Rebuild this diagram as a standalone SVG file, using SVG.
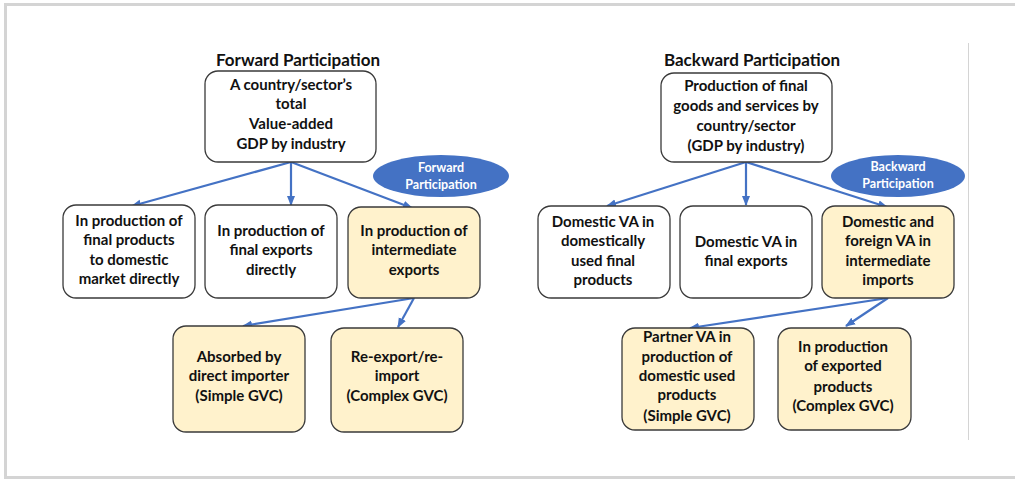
<svg xmlns="http://www.w3.org/2000/svg" width="1015" height="481" viewBox="0 0 1015 481">
<defs>
<style>
.t{font-family:Lato,"Liberation Sans",sans-serif;font-weight:bold;font-size:15px;fill:#111;text-anchor:middle}
.h{font-size:17px}
.e{font-size:12.5px;fill:#fff}
.w{fill:#fff;stroke:#3a3a3a;stroke-width:1.3}
.y{fill:#fff2cc;stroke:#3a3a3a;stroke-width:1.3}
.c{stroke:#4472c4;stroke-width:2.2;fill:none;marker-end:url(#ah)}
</style>
<marker id="ah" markerUnits="userSpaceOnUse" markerWidth="10" markerHeight="10" viewBox="0 0 10 10" refX="9" refY="5" orient="auto">
<path d="M0,1 L10,5 L0,9 z" fill="#4472c4"/>
</marker>
</defs>
<rect x="0" y="0" width="1015" height="481" fill="#fff"/>
<rect x="5.5" y="4.5" width="1030" height="473" fill="none" stroke="#d4d4d4" stroke-width="3"/>
<line x1="968.5" y1="43" x2="968.5" y2="440" stroke="#d4d4d4" stroke-width="1"/>

<text class="t h" x="298" y="66">Forward Participation</text>
<text class="t h" x="752" y="66">Backward Participation</text>

<g id="connectors">
<path class="c" d="M291,162 L132,206"/>
<path class="c" d="M291,162 L291,205"/>
<path class="c" d="M291,162 L412,208"/>
<path class="c" d="M414,298 L243,326"/>
<path class="c" d="M414,298 L398,327"/>
<path class="c" d="M746,162 L607,206"/>
<path class="c" d="M746,162 L746,205"/>
<path class="c" d="M746,162 L887,207"/>
<path class="c" d="M888,298 L690,328"/>
<path class="c" d="M888,298 L846,326"/>
</g>

<g id="f-top">
<rect class="w" x="205" y="71" width="171" height="91" rx="13"/>
<text class="t" x="291" y="90">A country/sector’s</text>
<text class="t" x="291" y="109">total</text>
<text class="t" x="291" y="129">Value-added</text>
<text class="t" x="291" y="149">GDP by industry</text>
</g>
<g id="f-badge">
<ellipse cx="441" cy="176" rx="68" ry="21" fill="#4472c4"/>
<text class="t e" x="441" y="172">Forward</text>
<text class="t e" x="441" y="189">Participation</text>
</g>
<g id="f-dom">
<rect class="w" x="63" y="205" width="132" height="93" rx="13"/>
<text class="t" x="129" y="226">In production of</text>
<text class="t" x="129" y="245">final products</text>
<text class="t" x="129" y="265">to domestic</text>
<text class="t" x="129" y="284">market directly</text>
</g>
<g id="f-final">
<rect class="w" x="205" y="205" width="132" height="93" rx="13"/>
<text class="t" x="271" y="236">In production of</text>
<text class="t" x="271" y="255">final exports</text>
<text class="t" x="271" y="275">directly</text>
</g>
<g id="f-inter">
<rect class="y" x="348" y="207" width="132" height="91" rx="13"/>
<text class="t" x="414" y="236">In production of</text>
<text class="t" x="414" y="255">intermediate</text>
<text class="t" x="414" y="275">exports</text>
</g>
<g id="f-simple">
<rect class="y" x="173" y="326" width="132" height="106" rx="13"/>
<text class="t" x="239" y="362">Absorbed by</text>
<text class="t" x="239" y="381">direct importer</text>
<text class="t" x="239" y="401">(Simple GVC)</text>
</g>
<g id="f-complex">
<rect class="y" x="331" y="328" width="132" height="104" rx="13"/>
<text class="t" x="397" y="362">Re-export/re-</text>
<text class="t" x="397" y="381">import</text>
<text class="t" x="397" y="401">(Complex GVC)</text>
</g>

<g id="b-top">
<rect class="w" x="661" y="73" width="171" height="89" rx="13"/>
<text class="t" x="746" y="91">Production of final</text>
<text class="t" x="746" y="111">goods and services by</text>
<text class="t" x="746" y="131">country/sector</text>
<text class="t" x="746" y="151">(GDP by industry)</text>
</g>
<g id="b-badge">
<ellipse cx="898" cy="176" rx="67" ry="21" fill="#4472c4"/>
<text class="t e" x="898" y="171">Backward</text>
<text class="t e" x="898" y="188">Participation</text>
</g>
<g id="b-dom">
<rect class="w" x="538" y="206" width="132" height="92" rx="13"/>
<text class="t" x="603" y="227">Domestic VA in</text>
<text class="t" x="603" y="246">domestically</text>
<text class="t" x="603" y="266">used final</text>
<text class="t" x="603" y="285">products</text>
</g>
<g id="b-final">
<rect class="w" x="680" y="206" width="132" height="92" rx="13"/>
<text class="t" x="746" y="247">Domestic VA in</text>
<text class="t" x="746" y="266">final exports</text>
</g>
<g id="b-inter">
<rect class="y" x="822" y="206" width="132" height="92" rx="13"/>
<text class="t" x="888" y="227">Domestic and</text>
<text class="t" x="888" y="246">foreign VA in</text>
<text class="t" x="888" y="266">intermediate</text>
<text class="t" x="888" y="285">imports</text>
</g>
<g id="b-simple">
<rect class="y" x="622" y="328" width="132" height="102" rx="13"/>
<text class="t" x="687" y="342">Partner VA in</text>
<text class="t" x="687" y="362">production of</text>
<text class="t" x="687" y="381">domestic used</text>
<text class="t" x="687" y="400">products</text>
<text class="t" x="687" y="421">(Simple GVC)</text>
</g>
<g id="b-complex">
<rect class="y" x="778" y="328" width="133" height="102" rx="13"/>
<text class="t" x="843" y="352">In production</text>
<text class="t" x="843" y="371">of exported</text>
<text class="t" x="843" y="392">products</text>
<text class="t" x="843" y="411">(Complex GVC)</text>
</g>
</svg>
